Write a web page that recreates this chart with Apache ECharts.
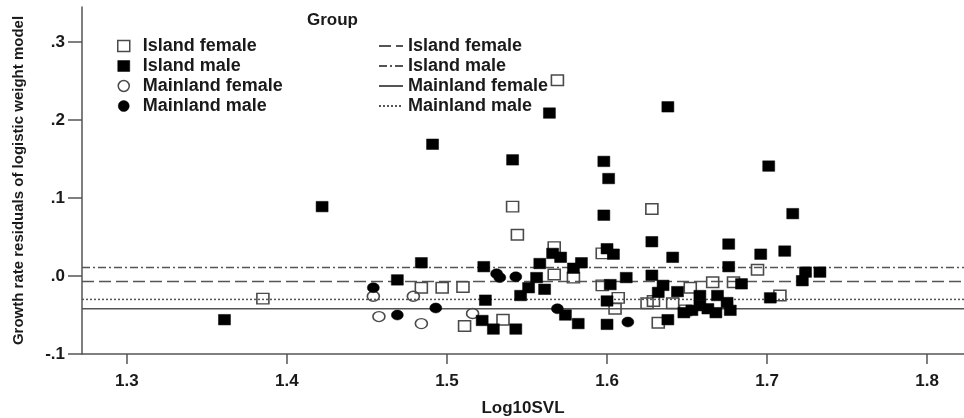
<!DOCTYPE html>
<html>
<head>
<meta charset="utf-8">
<script src="https://cdn.jsdelivr.net/npm/echarts@6/dist/echarts.min.js"></script>
<style>
  html, body { margin: 0; padding: 0; background: #fff; }
  #chart { width: 964px; height: 418px; }
</style>
</head>
<body>
<div id="chart"></div>
<script>
// 数据
const xTicks = [1.3, 1.4, 1.5, 1.6, 1.7, 1.8]
const yTicks = [-0.1, 0, 0.1, 0.2, 0.3]
const groups = ['Island female', 'Island male', 'Mainland female', 'Mainland male']

const islandFemale = [
  [1.385, -0.029], [1.484, -0.015], [1.497, -0.015], [1.510, -0.014], [1.541, 0.089],
  [1.544, 0.053], [1.569, 0.251], [1.567, 0.037], [1.567, 0.002], [1.579, -0.002],
  [1.628, 0.086], [1.694, 0.008], [1.511, -0.064], [1.535, -0.056], [1.597, 0.029],
  [1.597, -0.012], [1.607, -0.028], [1.605, -0.042], [1.625, -0.035], [1.629, -0.032],
  [1.641, -0.035], [1.652, -0.015], [1.666, -0.008], [1.679, -0.008], [1.632, -0.060],
  [1.708, -0.025], [1.649, -0.044]
]
const islandMale = [
  [1.361, -0.056], [1.422, 0.089], [1.491, 0.169], [1.484, 0.017], [1.469, -0.005],
  [1.541, 0.149], [1.564, 0.209], [1.598, 0.147], [1.601, 0.125], [1.598, 0.078],
  [1.638, 0.217], [1.701, 0.141], [1.716, 0.080], [1.628, 0.044], [1.641, 0.024],
  [1.676, 0.041], [1.696, 0.028], [1.711, 0.032], [1.676, 0.012], [1.724, 0.005],
  [1.733, 0.005], [1.722, -0.006], [1.702, -0.028], [1.600, 0.035], [1.604, 0.028],
  [1.566, 0.029], [1.571, 0.024], [1.558, 0.016], [1.523, 0.012], [1.584, 0.017],
  [1.579, 0.010], [1.556, -0.002], [1.551, -0.015], [1.561, -0.017], [1.546, -0.025],
  [1.524, -0.031], [1.522, -0.057], [1.529, -0.068], [1.543, -0.068], [1.574, -0.050],
  [1.582, -0.061], [1.600, -0.062], [1.612, -0.002], [1.628, 0.001], [1.602, -0.011],
  [1.635, -0.012], [1.632, -0.021], [1.644, -0.020], [1.684, -0.010], [1.600, -0.032],
  [1.658, -0.025], [1.669, -0.025], [1.675, -0.034], [1.653, -0.044], [1.663, -0.042],
  [1.668, -0.047], [1.677, -0.044], [1.648, -0.047], [1.658, -0.038], [1.638, -0.056]
]
const mainlandFemale = [
  [1.454, -0.026], [1.4575, -0.052], [1.479, -0.026], [1.484, -0.061], [1.516, -0.048]
]
const mainlandMale = [
  [1.454, -0.015], [1.469, -0.050], [1.493, -0.041], [1.531, 0.003], [1.533, -0.002],
  [1.543, -0.001], [1.569, -0.042], [1.613, -0.059]
]
// 各组拟合水平线
const fitLevels = [-0.007, 0.011, -0.042, -0.030]

const xMin = 1.272
const xMax = 1.823
const font = "'Liberation Sans', Arial, sans-serif"
const ink = '#1a1a1a'
const lineColor = '#555'

const myChart = echarts.init(document.getElementById('chart'))

// 线型
const lineTypes = [[12, 5], [8, 3, 2, 3], 'solid', [2, 2]]
const fitSeries = groups.map((g, i) => ({
  name: g + ' fit',
  type: 'line',
  symbol: 'none',
  silent: true,
  z: 1,
  color: lineColor,
  data: [[xMin, fitLevels[i]], [xMax, fitLevels[i]]],
  lineStyle: { color: lineColor, width: 1.5, type: lineTypes[i] }
}))

const openStyle = { color: 'rgba(255,255,255,0)', borderColor: '#4a4a4a', borderWidth: 1.5, opacity: 1 }
const fillStyle = { color: '#000', borderColor: '#000', borderWidth: 0.5, opacity: 1 }

myChart.setOption({
  animation: false,
  textStyle: { fontFamily: font },
  title: {
    text: 'Group',
    left: 302,
    top: 7,
    textStyle: { fontFamily: font, fontSize: 17, fontWeight: 'bold', color: ink }
  },
  legend: [
    {
      orient: 'vertical',
      left: 112,
      top: 31,
      itemWidth: 12,
      itemHeight: 11,
      itemGap: 0,
      selectedMode: false,
      textStyle: { fontFamily: font, fontSize: 18, fontWeight: 'bold', color: ink, lineHeight: 20, padding: [0, 0, 0, 8] },
      data: [
        { name: groups[0], icon: 'rect', itemStyle: openStyle },
        { name: groups[1], icon: 'rect', itemStyle: fillStyle },
        { name: groups[2], icon: 'circle', itemStyle: openStyle },
        { name: groups[3], icon: 'circle', itemStyle: fillStyle }
      ]
    },
    {
      orient: 'vertical',
      left: 373,
      top: 31,
      itemWidth: 24,
      itemHeight: 11,
      itemGap: 0,
      selectedMode: false,
      itemStyle: { opacity: 0 },
      formatter: name => name.replace(' fit', ''),
      textStyle: { fontFamily: font, fontSize: 18, fontWeight: 'bold', color: ink, lineHeight: 20 },
      data: groups.map(g => g + ' fit')
    }
  ],
  grid: { left: 82, right: 0, top: 7, bottom: 64, containLabel: false, outerBoundsMode: 'none' },
  xAxis: {
    type: 'value',
    min: xMin,
    max: xMax,
    name: 'Log10SVL',
    nameLocation: 'middle',
    nameGap: 46,
    nameTextStyle: { fontFamily: font, fontSize: 17, fontWeight: 'bold', color: ink },
    splitLine: { show: false },
    axisLine: { onZero: false, lineStyle: { color: lineColor, width: 1.5 } },
    axisTick: { customValues: xTicks, length: 10, lineStyle: { color: lineColor, width: 1.5 } },
    axisLabel: {
      customValues: xTicks,
      margin: 19,
      fontFamily: font,
      fontSize: 17,
      fontWeight: 'bold',
      color: ink,
      formatter: v => v.toFixed(1)
    }
  },
  yAxis: {
    type: 'value',
    min: -0.1,
    max: 0.345,
    name: 'Growth rate residuals of logistic weight model',
    nameLocation: 'middle',
    nameRotate: 90,
    nameGap: 56,
    nameTextStyle: { fontFamily: font, fontSize: 15, fontWeight: 'bold', color: ink },
    splitLine: { show: false },
    axisLine: { show: true, onZero: false, lineStyle: { color: lineColor, width: 1.5 } },
    axisTick: { show: true, customValues: yTicks, length: 14, lineStyle: { color: lineColor, width: 1.5 } },
    axisLabel: {
      customValues: yTicks,
      margin: 17,
      fontFamily: font,
      fontSize: 17,
      fontWeight: 'bold',
      color: ink,
      formatter: v => v.toFixed(1).replace('0.', '.')
    }
  },
  series: [
    ...fitSeries,
    { name: groups[0], type: 'scatter', symbol: 'rect', symbolSize: [12, 10.5], z: 3, data: islandFemale, itemStyle: openStyle },
    { name: groups[1], type: 'scatter', symbol: 'rect', symbolSize: [12, 10.5], z: 4, data: islandMale, itemStyle: fillStyle },
    { name: groups[2], type: 'scatter', symbol: 'circle', symbolSize: [12, 10], z: 3, data: mainlandFemale, itemStyle: openStyle },
    { name: groups[3], type: 'scatter', symbol: 'circle', symbolSize: [12, 10], z: 4, data: mainlandMale, itemStyle: fillStyle }
  ]
})
</script>
</body>
</html>
